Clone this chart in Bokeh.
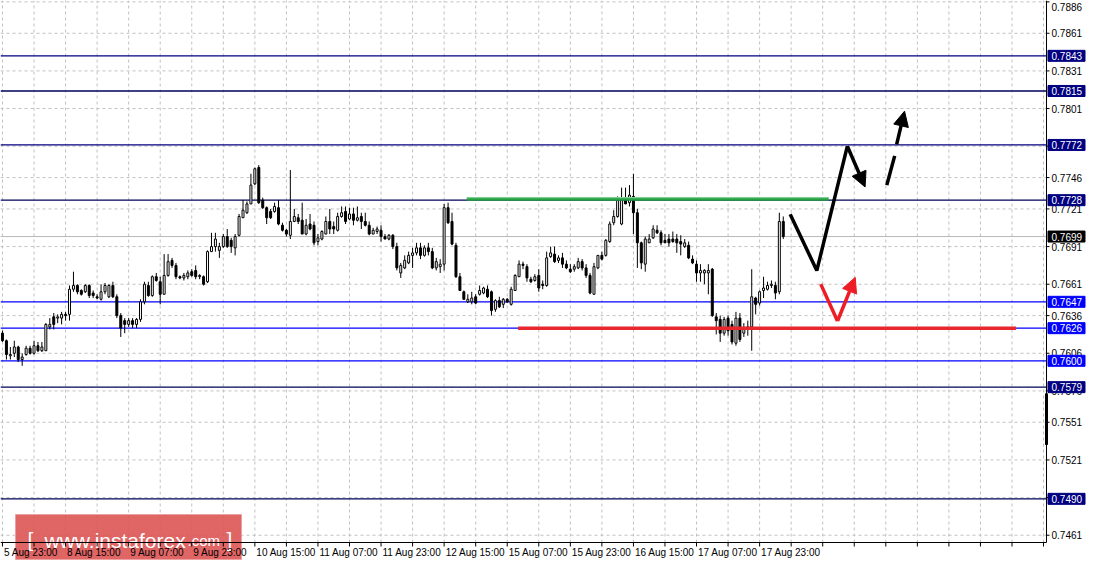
from bokeh.plotting import figure
from bokeh.models import Arrow, NormalHead, ColumnDataSource
from bokeh.core.properties import value
from bokeh.embed import file_html
from bokeh.resources import INLINE

# ---------------- data (H1 candles) ----------------
OPEN = [
    .7622, .7616, .7604, .7606, .7611, .7601, .7605, .7610, .7606, .7612,
    .7608, .7608, .7627, .7635, .7634, .7634, .7637, .7637, .7657, .7660,
    .7656, .7655, .7660, .7654, .7651, .7649, .7655, .7651, .7660, .7651,
    .7636, .7632, .7629, .7632, .7629, .7633, .7647, .7660, .7652, .7667,
    .7663, .7653, .7668, .7680, .7676, .7667, .7666, .7667, .7671, .7672,
    .7667, .7667, .7663, .7687, .7691, .7688, .7691, .7699, .7696, .7690,
    .7700, .7714, .7718, .7725, .7741, .7754, .7728, .7722, .7719, .7719,
    .7722, .7708, .7704, .7700, .7711, .7714, .7712, .7701, .7709, .7708,
    .7695, .7697, .7701, .7711, .7707, .7704, .7715, .7719, .7713, .7717,
    .7712, .7715, .7711, .7708, .7701, .7703, .7704, .7699, .7697, .7700,
    .7691, .7670, .7674, .7678, .7684, .7686, .7690, .7684, .7690, .7687,
    .7674, .7675, .7677, .7722, .7711, .7692, .7667, .7655, .7647, .7647,
    .7651, .7653, .7654, .7657, .7655, .7641, .7648, .7645, .7649, .7645,
    .7656, .7667, .7677, .7675, .7665, .7664, .7668, .7661, .7660, .7683,
    .7685, .7680, .7682, .7677, .7673, .7673, .7674, .7679, .7674, .7668,
    .7653, .7674, .7684, .7684, .7695, .7710, .7715, .7709, .7728, .7726,
    .7731, .7718, .7694, .7677, .7694, .7698, .7704, .7702, .7696, .7697,
    .7697, .7697, .7695, .7691, .7692, .7681, .7677, .7670, .7670, .7670,
    .7673, .7635, .7633, .7622, .7634, .7629, .7614, .7634, .7622, .7625,
    .7627, .7650, .7646, .7656, .7657, .7660, .7660, .7655, .7711,
]
HIGH = [
    .7624, .7617, .7611, .7616, .7612, .7606, .7612, .7612, .7616, .7615,
    .7615, .7630, .7634, .7638, .7637, .7639, .7639, .7660, .7671, .7661,
    .7657, .7661, .7661, .7656, .7653, .7661, .7662, .7661, .7663, .7653,
    .7638, .7634, .7634, .7634, .7634, .7649, .7663, .7663, .7668, .7670,
    .7667, .7685, .7685, .7682, .7678, .7668, .7670, .7672, .7673, .7676,
    .7669, .7668, .7688, .7702, .7702, .7694, .7701, .7705, .7698, .7701,
    .7717, .7728, .7727, .7749, .7754, .7756, .7730, .7723, .7721, .7726,
    .7728, .7710, .7705, .7752, .7721, .7717, .7726, .7713, .7717, .7711,
    .7701, .7704, .7715, .7721, .7711, .7718, .7723, .7723, .7722, .7722,
    .7723, .7718, .7718, .7711, .7706, .7707, .7708, .7701, .7701, .7701,
    .7694, .7678, .7684, .7687, .7690, .7694, .7694, .7692, .7694, .7690,
    .7682, .7681, .7725, .7726, .7718, .7694, .7670, .7656, .7653, .7655,
    .7653, .7660, .7659, .7660, .7656, .7649, .7651, .7650, .7650, .7659,
    .7669, .7680, .7679, .7677, .7667, .7669, .7673, .7664, .7687, .7691,
    .7691, .7684, .7686, .7680, .7677, .7677, .7682, .7681, .7677, .7670,
    .7678, .7684, .7687, .7697, .7711, .7720, .7731, .7738, .7738, .7740,
    .7749, .7721, .7695, .7699, .7701, .7708, .7708, .7704, .7701, .7701,
    .7703, .7701, .7700, .7697, .7695, .7684, .7680, .7677, .7673, .7677,
    .7674, .7638, .7636, .7635, .7636, .7632, .7639, .7638, .7630, .7632,
    .7673, .7651, .7656, .7667, .7663, .7664, .7663, .7718, .7715,
]
LOW = [
    .7615, .7601, .7601, .7603, .7599, .7596, .7604, .7605, .7605, .7607,
    .7607, .7608, .7625, .7625, .7630, .7629, .7632, .7632, .7655, .7653,
    .7652, .7654, .7650, .7650, .7649, .7648, .7653, .7650, .7650, .7634,
    .7619, .7622, .7627, .7626, .7626, .7631, .7645, .7651, .7651, .7663,
    .7645, .7653, .7667, .7674, .7665, .7665, .7664, .7665, .7667, .7665,
    .7665, .7660, .7662, .7687, .7687, .7682, .7690, .7690, .7686, .7684,
    .7699, .7714, .7717, .7725, .7740, .7725, .7721, .7709, .7713, .7718,
    .7708, .7703, .7699, .7697, .7711, .7709, .7701, .7700, .7704, .7692,
    .7692, .7696, .7701, .7701, .7701, .7703, .7714, .7709, .7712, .7708,
    .7711, .7705, .7707, .7700, .7701, .7701, .7695, .7697, .7696, .7689,
    .7672, .7666, .7673, .7677, .7674, .7684, .7681, .7683, .7684, .7673,
    .7672, .7670, .7672, .7709, .7692, .7666, .7656, .7649, .7646, .7645,
    .7645, .7652, .7653, .7650, .7636, .7639, .7642, .7642, .7646, .7644,
    .7656, .7667, .7673, .7663, .7662, .7663, .7655, .7657, .7659, .7682,
    .7678, .7678, .7674, .7673, .7670, .7671, .7673, .7672, .7666, .7653,
    .7653, .7673, .7680, .7683, .7694, .7708, .7714, .7708, .7725, .7723,
    .7701, .7674, .7673, .7671, .7694, .7697, .7701, .7692, .7694, .7691,
    .7694, .7686, .7684, .7690, .7681, .7677, .7663, .7663, .7661, .7653,
    .7635, .7621, .7615, .7620, .7620, .7613, .7612, .7615, .7619, .7620,
    .7608, .7637, .7644, .7650, .7656, .7658, .7649, .7653, .7697,
]
CLOSE = [
    .7616, .7605, .7605, .7611, .7601, .7603, .7610, .7606, .7612, .7608,
    .7611, .7629, .7629, .7629, .7635, .7637, .7636, .7657, .7660, .7655,
    .7653, .7660, .7652, .7652, .7650, .7655, .7660, .7660, .7651, .7636,
    .7626, .7629, .7632, .7629, .7633, .7647, .7661, .7652, .7667, .7664,
    .7653, .7668, .7679, .7676, .7667, .7666, .7668, .7670, .7668, .7667,
    .7668, .7661, .7687, .7691, .7697, .7691, .7699, .7691, .7691, .7699,
    .7715, .7720, .7725, .7740, .7753, .7726, .7722, .7714, .7714, .7723,
    .7709, .7704, .7701, .7711, .7715, .7711, .7701, .7708, .7705, .7694,
    .7698, .7703, .7711, .7705, .7705, .7715, .7718, .7711, .7717, .7712,
    .7714, .7711, .7708, .7701, .7704, .7705, .7699, .7697, .7700, .7691,
    .7674, .7676, .7680, .7684, .7686, .7690, .7684, .7690, .7687, .7674,
    .7679, .7677, .7722, .7710, .7693, .7667, .7656, .7649, .7649, .7650,
    .7646, .7656, .7658, .7651, .7640, .7648, .7643, .7649, .7647, .7657,
    .7668, .7677, .7676, .7666, .7663, .7667, .7658, .7660, .7682, .7686,
    .7679, .7682, .7677, .7674, .7671, .7675, .7679, .7674, .7668, .7654,
    .7675, .7684, .7681, .7696, .7709, .7715, .7728, .7728, .7725, .7732,
    .7718, .7694, .7678, .7697, .7697, .7705, .7702, .7694, .7694, .7694,
    .7695, .7694, .7693, .7694, .7682, .7678, .7670, .7672, .7672, .7672,
    .7636, .7632, .7622, .7633, .7624, .7615, .7634, .7617, .7626, .7627,
    .7651, .7645, .7655, .7658, .7660, .7661, .7654, .7711, .7699,
]

TIME_LABELS = ["5 Aug 23:00", "8 Aug 15:00", "9 Aug 07:00", "9 Aug 23:00",
               "10 Aug 15:00", "11 Aug 07:00", "11 Aug 23:00", "12 Aug 15:00",
               "15 Aug 07:00", "15 Aug 23:00", "16 Aug 15:00", "17 Aug 07:00",
               "17 Aug 23:00"]
LABEL_STEP = 16          # bars between time labels
GRID_STEP = 8            # bars between vertical grid lines
N_SLOTS = 265            # visible bar slots in the window

PRICE_TICKS = [0.7886, 0.7861, 0.7831, 0.7801, 0.7771, 0.7746, 0.7721, 0.7691,
               0.7661, 0.7636, 0.7606, 0.7576, 0.7551, 0.7521, 0.7491, 0.7461]
Y_MIN, Y_MAX = 0.74552, 0.78871

LEVELS = [0.7843, 0.7815, 0.7772, 0.7728, 0.7647, 0.7626, 0.7600, 0.7579, 0.7490]
LEVEL_COLORS = ["#000080", "#00005a", "#000080", "#00005a", "#0000ff", "#0000ff",
                "#0000ff", "#00005a", "#00005a"]
LEVEL_BOX_COLORS = ["#000080", "#000080", "#000080", "#000080", "#0000ff", "#0000ff",
                    "#0000ff", "#000080", "#000080"]
BID = 0.7699
AXIS_MARK = (0.7574, 0.7533)

GREEN_LEVEL, GREEN_FROM, GREEN_TO = 0.7729, 117.75, 209.5
RED_LEVEL, RED_FROM, RED_TO = 0.7626, 130.75, 257.0

# drawn forecast paths (bar index, price)
BLACK_PATH_X = [199.75, 206.5, 214.25]
BLACK_PATH_Y = [0.77168, 0.76719, 0.77710]
BLACK_ARROW = (214.25, 0.77710, 218.75, 0.77385)
DASH_SEG = (224.25, 0.77400, 226.25, 0.77633)
DASH_ARROW = (226.75, 0.77725, 228.75, 0.77989)
RED_PATH_X = [207.5, 211.75]
RED_PATH_Y = [0.76611, 0.76317]
RED_ARROW = (211.75, 0.76317, 216.25, 0.76665)

WATERMARK = ["[", "www.instaforex", ".com", "]"]

# ---------------- layout (pixels) ----------------
W, H = 1086, 564
CHART_W, CHART_H = 1046, 542
X_LEFT, X_AXIS = -0.5, N_SLOTS - 0.25
PXX = (X_AXIS - X_LEFT) / CHART_W          # bars per pixel
PXY = (Y_MAX - Y_MIN) / CHART_H            # price per pixel
X_RIGHT = X_LEFT + W * PXX
Y_BOTTOM = Y_MAX - H * PXY


def sx(px):
    return X_LEFT + px * PXX


def sy(py):
    return Y_MAX - py * PXY


FONT = value("Liberation Sans")
LBL = "10px"

p = figure(width=W, height=H, output_backend="svg", toolbar_location=None,
           x_range=(X_LEFT, X_RIGHT), y_range=(Y_BOTTOM, Y_MAX),
           x_axis_type=None, y_axis_type=None, min_border=0,
           background_fill_color="white", border_fill_color="white")
p.outline_line_color = None
p.grid.visible = False

# grid
xticks = list(range(0, N_SLOTS, GRID_STEP))
p.segment(x0=xticks, y0=[Y_MIN] * len(xticks), x1=xticks, y1=[Y_MAX] * len(xticks),
          line_color="#c0c0c0", line_width=1, line_dash="3 3")
p.segment(x0=[X_LEFT] * len(PRICE_TICKS), y0=PRICE_TICKS,
          x1=[X_AXIS] * len(PRICE_TICKS), y1=PRICE_TICKS,
          line_color="#c0c0c0", line_width=1, line_dash="3 3")

# level lines
p.segment(x0=[X_LEFT] * len(LEVELS), y0=LEVELS, x1=[X_AXIS] * len(LEVELS), y1=LEVELS,
          line_color=LEVEL_COLORS, line_width=1.3)
p.segment(x0=[X_LEFT], y0=[BID], x1=[X_AXIS], y1=[BID], line_color="#b8b8b8", line_width=1)

# candles
n = len(OPEN)
src = ColumnDataSource(dict(
    x=list(range(n)), h=HIGH, l=LOW,
    top=[max(o, c) for o, c in zip(OPEN, CLOSE)],
    bottom=[min(o, c) for o, c in zip(OPEN, CLOSE)],
    fill=["white" if c >= o else "black" for o, c in zip(OPEN, CLOSE)],
))
p.segment("x", "h", "x", "l", source=src, line_color="black", line_width=1)
p.vbar(x="x", width=0.5, top="top", bottom="bottom", source=src,
       fill_color="fill", line_color="black", line_width=1)

# support / resistance marks
p.segment(x0=[GREEN_FROM], y0=[GREEN_LEVEL], x1=[GREEN_TO], y1=[GREEN_LEVEL],
          line_color="#25a043", line_width=3.5)
p.segment(x0=[GREEN_FROM], y0=[GREEN_LEVEL + 1.2 * PXY], x1=[GREEN_TO],
          y1=[GREEN_LEVEL + 1.2 * PXY], line_color="#7fd08f", line_width=1.2)
p.segment(x0=[RED_FROM], y0=[RED_LEVEL], x1=[RED_TO], y1=[RED_LEVEL],
          line_color="#e8262e", line_width=3.5)

# forecast paths
p.line(BLACK_PATH_X, BLACK_PATH_Y, line_color="black", line_width=3.5)
p.segment(x0=[DASH_SEG[0]], y0=[DASH_SEG[1]], x1=[DASH_SEG[2]], y1=[DASH_SEG[3]],
          line_color="black", line_width=3.5)
p.line(RED_PATH_X, RED_PATH_Y, line_color="#ee1c25", line_width=3.5)
for (x0, y0, x1, y1), col in ((BLACK_ARROW, "black"), (DASH_ARROW, "black"),
                              (RED_ARROW, "#ee1c25")):
    p.add_layout(Arrow(end=NormalHead(size=15, fill_color=col, line_color=col),
                       x_start=x0, y_start=y0, x_end=x1, y_end=y1,
                       line_color=col, line_width=3.5))

# watermark box (under the axis labels)
p.quad(left=[sx(15)], right=[sx(241)], top=[sy(514)], bottom=[sy(559)],
       fill_color="#dd5555", fill_alpha=0.9, line_color="#eea0a0", line_width=1)
base = sy(540)
p.text(x=[sx(27), sx(44)], y=[base + 1.5 * PXY, base], text=[WATERMARK[0], WATERMARK[1]],
       text_font=FONT, text_font_size="21px", text_color="white",
       text_baseline="alphabetic", text_align="left")
p.text(x=[sx(187)], y=[base], text=[WATERMARK[2]], text_font=FONT,
       text_font_size="15px", text_color="white", text_baseline="alphabetic",
       text_align="left")
p.text(x=[sx(226)], y=[base + 1.5 * PXY], text=[WATERMARK[3]], text_font=FONT,
       text_font_size="21px", text_color="white", text_baseline="alphabetic",
       text_align="left")

# axes (drawn on the bottom and right of the chart area)
p.segment(x0=[X_LEFT, X_AXIS], y0=[Y_MIN, Y_MIN], x1=[X_AXIS, X_AXIS], y1=[Y_MIN, Y_MAX],
          line_color="black", line_width=1)
p.segment(x0=xticks, y0=[Y_MIN] * len(xticks), x1=xticks,
          y1=[Y_MIN - 4 * PXY] * len(xticks), line_color="black", line_width=1)
lab_x = [i * LABEL_STEP + 1.5 * PXX for i in range(len(TIME_LABELS))]
p.text(x=lab_x, y=[Y_MIN - 10 * PXY] * len(TIME_LABELS), text=TIME_LABELS,
       text_font=FONT, text_font_size=LBL, text_color="black",
       text_baseline="middle", text_align="left")
p.segment(x0=[X_AXIS] * len(PRICE_TICKS), y0=PRICE_TICKS,
          x1=[X_AXIS + 3 * PXX] * len(PRICE_TICKS), y1=PRICE_TICKS,
          line_color="black", line_width=1)
tick_text_y = [min(t, Y_MAX - 6 * PXY) for t in PRICE_TICKS]
p.text(x=[X_AXIS + 5 * PXX] * len(PRICE_TICKS), y=tick_text_y,
       text=[f"{t:.4f}" for t in PRICE_TICKS], text_font=FONT,
       text_font_size=LBL, text_color="black", text_baseline="middle",
       text_align="left")
p.segment(x0=[X_AXIS], y0=[AXIS_MARK[0]], x1=[X_AXIS], y1=[AXIS_MARK[1]],
          line_color="black", line_width=3)

# price boxes on the right scale
box_lv = LEVELS + [BID]
box_col = LEVEL_BOX_COLORS + ["black"]
p.quad(left=[X_AXIS + 1.5 * PXX] * len(box_lv), right=[X_AXIS + 38.5 * PXX] * len(box_lv),
       bottom=[v - 5.5 * PXY for v in box_lv], top=[v + 5.5 * PXY for v in box_lv],
       fill_color=box_col, line_color=box_col)
p.text(x=[X_AXIS + 5 * PXX] * len(box_lv), y=box_lv, text=[f"{v:.4f}" for v in box_lv],
       text_font=FONT, text_font_size=LBL, text_color="white",
       text_baseline="middle", text_align="left")

open("out.html", "w").write(file_html(p, INLINE))
